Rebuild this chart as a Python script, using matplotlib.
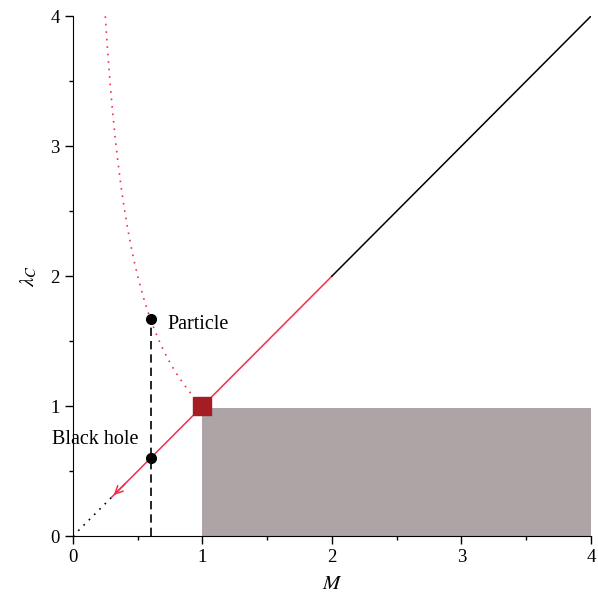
import numpy as np
import matplotlib.pyplot as plt
from matplotlib.ticker import MultipleLocator

plt.rcParams['font.family'] = ['Liberation Serif', 'DejaVu Serif']
plt.rcParams['mathtext.fontset'] = 'stix'

# data
m_curve = np.linspace(0.25, 1.0, 200)   # lambda = 1/M branch (dotted)
line_red = [0.3, 2.0]                   # lambda = M, red part
line_black = [2.0, 4.0]                 # lambda = M, black part
line_dot = [0.0, 0.3]                   # lambda = M, dotted part
m_mark = 0.6
bh_lambda = 0.6
particle_lambda = 1 / 0.6
planck = (1.0, 1.0)
gray_box = (1.0, 0.0, 3.0, 0.985)  # x, y, w, h

red = '#f0304a'

fig = plt.figure(figsize=(5.98, 6.03), dpi=100)
ax = fig.add_axes([0.122, 0.111, 0.866, 0.862])

ax.add_patch(plt.Rectangle(gray_box[:2], gray_box[2], gray_box[3],
                           color='#ada5a5', lw=0, zorder=1))

ax.plot(m_curve, 1 / m_curve, color=red, lw=1.2, dashes=(1, 3.5), zorder=2)
ax.plot(line_red, line_red, '-', color=red, lw=1.1, zorder=2)
ax.plot(line_black, line_black, '-', color='black', lw=1.1, zorder=2)
ax.plot(line_dot, line_dot, color='black', lw=1.2, dashes=(1, 3.5), zorder=2)
ax.annotate('', xy=(0.3, 0.3), xytext=(0.42, 0.42),
            arrowprops=dict(arrowstyle='->', color=red, lw=1.1,
                            mutation_scale=14), zorder=3)

ax.plot([m_mark, m_mark], [0, particle_lambda], '--', color='black',
        lw=1.2, dashes=(5, 3), zorder=2)
ax.plot([m_mark, m_mark], [bh_lambda, particle_lambda], 'o',
        color='black', ms=7, zorder=4)
ax.plot(*planck, 's', color='#a51d23', ms=12.5, zorder=5)

ax.text(0.73, 1.625, 'Particle', fontsize=14.5, va='center', ha='left')
ax.text(0.505, 0.74, 'Black hole', fontsize=14.5, va='center', ha='right')

ax.set_xlim(0, 4)
ax.set_ylim(0, 4)
ax.xaxis.set_major_locator(MultipleLocator(1))
ax.yaxis.set_major_locator(MultipleLocator(1))
ax.xaxis.set_minor_locator(MultipleLocator(0.5))
ax.yaxis.set_minor_locator(MultipleLocator(0.5))
ax.tick_params(which='major', direction='out', length=6, width=1, labelsize=13.5)
ax.tick_params(which='minor', direction='out', length=3, width=1)
ax.spines['top'].set_visible(False)
ax.spines['right'].set_visible(False)
ax.set_xlabel('$M$', fontsize=15, labelpad=6)
ax.set_ylabel(r'$\lambda_C$', fontsize=15, labelpad=8)

fig.savefig('out.png', dpi=100)
